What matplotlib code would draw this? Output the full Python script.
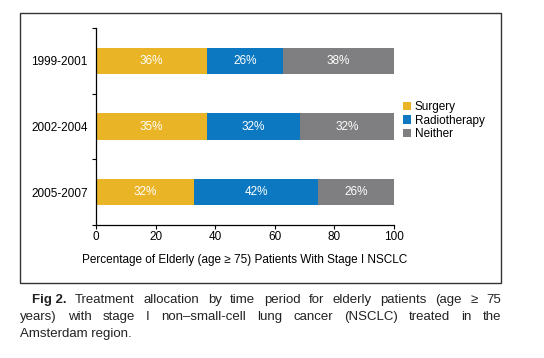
import numpy as np
import matplotlib
matplotlib.use("Agg")
import matplotlib.pyplot as plt
from matplotlib.patches import Rectangle

plt.rcParams['font.family'] = ['Liberation Sans', 'DejaVu Sans']

# data
periods = ["1999-2001", "2002-2004", "2005-2007"]
series = ["Surgery", "Radiotherapy", "Neither"]
surgery = [37.4, 37.1, 33.0]
radio = [25.4, 31.5, 41.4]
neither = [37.2, 31.4, 25.6]
surgery_lbl = ["36%", "35%", "32%"]
radio_lbl = ["26%", "32%", "42%"]
neither_lbl = ["38%", "32%", "26%"]
colors = ["#E9B425", "#0B78C1", "#7F7F81"]

fig = plt.figure(figsize=(5.44, 3.58), dpi=100)
W, H = 544, 358

def px(x0, y0, x1, y1):
    # pixel box -> figure coords
    return [x0 / W, 1 - y1 / H, (x1 - x0) / W, (y1 - y0) / H]

# outer frame
fig.patches.append(Rectangle((20 / W, 1 - 283 / H), 481 / W, 270 / H,
                             transform=fig.transFigure, fill=False,
                             edgecolor="#333333", linewidth=1.0))

ax = fig.add_axes(px(96, 28, 394, 225))
y = np.arange(len(periods))
vals = [surgery, radio, neither]
lbls = [surgery_lbl, radio_lbl, neither_lbl]
left = np.zeros(len(periods))
for name, v, lab, c in zip(series, vals, lbls, colors):
    v = np.array(v)
    ax.barh(y, v, left=left, height=0.4, color=c, label=name)
    for yi, l, w, t in zip(y, left, v, lab):
        ax.text(l + w / 2, yi, t, ha="center", va="center", color="white",
                fontsize=8.5)
    left += v

ax.set_ylim(2.5, -0.5)
ax.set_xlim(0, 100)
ax.set_yticks(y)
ax.set_yticklabels(periods, fontsize=8.5)
ax.tick_params(axis="y", length=0, pad=6)
ax.set_yticks([-0.5, 0.5, 1.5, 2.5], minor=True)
ax.tick_params(axis="y", which="minor", length=3, width=0.8)
ax.set_xticks([0, 20, 40, 60, 80, 100])
ax.tick_params(axis="x", labelsize=8.5, length=3, width=0.8, pad=1)
for s in ["top", "right"]:
    ax.spines[s].set_visible(False)
for s in ["left", "bottom"]:
    ax.spines[s].set_linewidth(0.9)
ax.set_xlabel("Percentage of Elderly (age \u2265 75) Patients With Stage I NSCLC",
              fontsize=8.5, labelpad=8)

ax.legend(loc="center left", bbox_to_anchor=(1.015, 0.53), frameon=False,
          fontsize=8.5, handlelength=0.7, handleheight=0.7, handletextpad=0.3,
          labelspacing=0.1, borderaxespad=0)

# caption, justified by hand
fig.canvas.draw()
renderer = fig.canvas.get_renderer()
cap_lines = [
    (["Fig 2.", "Treatment", "allocation", "by", "time", "period", "for", "elderly",
      "patients", "(age", "\u2265", "75"], 32, True),
    (["years)", "with", "stage", "I", "non\u2013small-cell", "lung", "cancer",
      "(NSCLC)", "treated", "in", "the"], 20, True),
    (["Amsterdam region."], 20, False),
]
ys = [300, 317, 334]
for (words, x0, just), yy in zip(cap_lines, ys):
    texts = []
    for i, wd in enumerate(words):
        bold = (yy == 300 and i == 0)
        t = fig.text(0, 1 - yy / H, wd, fontsize=9.5, va="center", ha="left",
                     fontweight="bold" if bold else "normal", color="#222222")
        texts.append(t)
    widths = [t.get_window_extent(renderer).width for t in texts]
    gap = (501 - x0 - sum(widths)) / (len(words) - 1) if just else 0
    x = x0
    for t, w in zip(texts, widths):
        t.set_x(x / W)
        x += w + gap

fig.savefig("out.png", dpi=100)
